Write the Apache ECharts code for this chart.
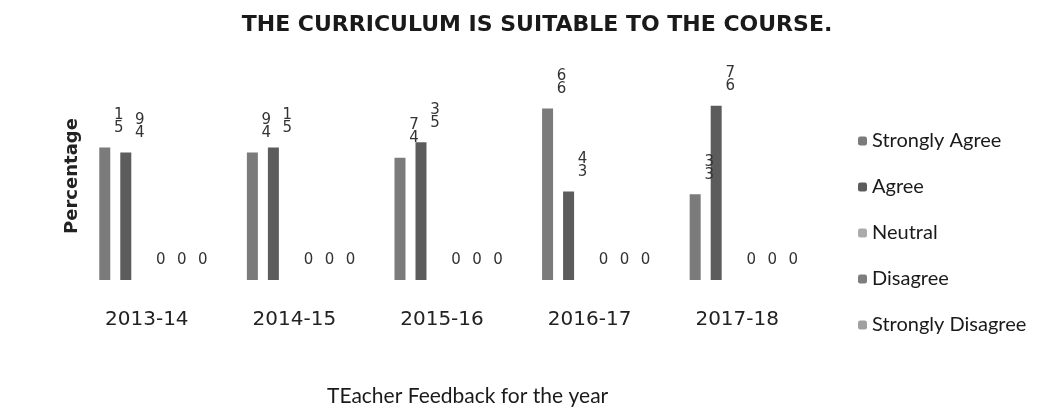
<!DOCTYPE html>
<html>
<head>
<meta charset="utf-8">
<style>
  html, body { margin: 0; padding: 0; background: #fff; }
  #main { width: 1038px; height: 416px; }
</style>
<script src="https://cdn.jsdelivr.net/npm/echarts@6/dist/echarts.min.js"></script>
</head>
<body>
<div id="main"></div>
<script>
// data
var years = ['2013-14', '2014-15', '2015-16', '2016-17', '2017-18'];
var stronglyAgree = [51, 49, 47, 66, 33];
var agree = [49, 51, 53, 34, 67];
var neutral = [0, 0, 0, 0, 0];
var disagree = [0, 0, 0, 0, 0];
var stronglyDisagree = [0, 0, 0, 0, 0];
var seriesNames = ['Strongly Agree', 'Agree', 'Neutral', 'Disagree', 'Strongly Disagree'];
var seriesColors = ['#7b7b7b', '#5c5c5c', '#ababab', '#7e7e7e', '#a0a0a0'];

var myChart = echarts.init(document.getElementById('main'));

// the labels in the picture are stacked upright digits, read bottom to top
function stackedLabel(p) {
  return String(p.value).split('').reverse().join('\n');
}

function makeBar(name, data, color) {
  return {
    name: name,
    type: 'bar',
    data: data,
    barWidth: 11,
    barGap: '91%',
    itemStyle: { color: color },
    label: {
      show: true,
      position: 'top',
      distance: 13,
      offset: [14, 0],
      formatter: stackedLabel,
      fontFamily: 'DejaVu Sans',
      fontSize: 15,
      lineHeight: 13,
      color: '#333'
    }
  };
}

var option = {
  animation: false,
  title: [{
    text: 'THE CURRICULUM IS SUITABLE TO THE COURSE.',
    left: 532,
    textAlign: 'center',
    top: 9,
    textStyle: {
      fontFamily: 'DejaVu Sans',
      fontWeight: 'bold',
      fontSize: 22,
      color: '#1a1a1a'
    }
  }, {
    text: 'TEacher Feedback for the year',
    left: 322,
    top: 381,
    textStyle: {
      fontFamily: 'Lato',
      fontWeight: 'normal',
      fontSize: 21,
      color: '#1a1a1a'
    }
  }],
  legend: {
    data: seriesNames,
    orient: 'vertical',
    left: 853,
    top: 126,
    itemWidth: 9,
    itemHeight: 9,
    itemGap: 26,
    textStyle: {
      fontFamily: 'Lato',
      fontSize: 20,
      color: '#1a1a1a'
    }
  },
  grid: {
    left: 73,
    width: 738,
    top: 72,
    bottom: 136,
    containLabel: false
  },
  xAxis: {
    type: 'category',
    data: years,
    axisLine: { show: false },
    axisTick: { show: false },
    axisLabel: {
      margin: 30,
      fontFamily: 'DejaVu Sans',
      fontSize: 20,
      color: '#222'
    }
  },
  yAxis: {
    type: 'value',
    min: 0,
    max: 80,
    name: 'Percentage',
    nameLocation: 'middle',
    nameGap: -8,
    nameTextStyle: {
      fontFamily: 'DejaVu Sans',
      fontWeight: 'bold',
      fontSize: 18,
      color: '#222'
    },
    axisLine: { show: false },
    axisTick: { show: false },
    axisLabel: { show: false },
    splitLine: { show: false }
  },
  series: [
    makeBar(seriesNames[0], stronglyAgree, seriesColors[0]),
    makeBar(seriesNames[1], agree, seriesColors[1]),
    makeBar(seriesNames[2], neutral, seriesColors[2]),
    makeBar(seriesNames[3], disagree, seriesColors[3]),
    makeBar(seriesNames[4], stronglyDisagree, seriesColors[4])
  ]
};

myChart.setOption(option);
</script>
</body>
</html>
